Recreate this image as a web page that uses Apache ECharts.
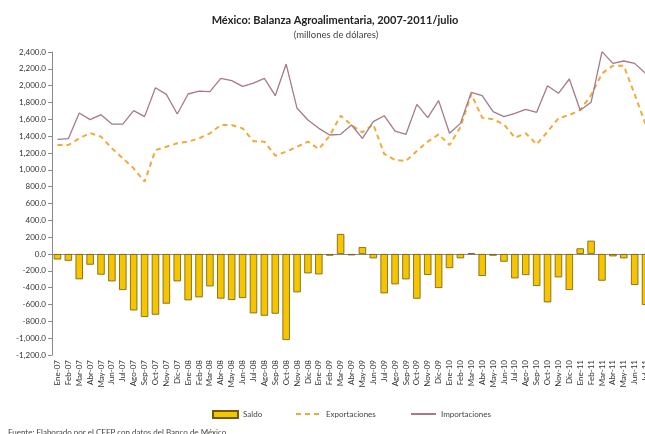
<!DOCTYPE html>
<html>
<head>
<meta charset="utf-8">
<script src="https://cdn.jsdelivr.net/npm/echarts@6/dist/echarts.min.js"></script>
<style>html,body{margin:0;padding:0;background:#fff}#c{width:645px;height:434px}</style>
</head>
<body>
<div id="c"></div>
<script>
var categories = ["Ene-07","Feb-07","Mar-07","Abr-07","May-07","Jun-07","Jul-07","Ago-07","Sep-07","Oct-07","Nov-07","Dic-07",
"Ene-08","Feb-08","Mar-08","Abr-08","May-08","Jun-08","Jul-08","Ago-08","Sep-08","Oct-08","Nov-08","Dic-08",
"Ene-09","Feb-09","Mar-09","Abr-09","May-09","Jun-09","Jul-09","Ago-09","Sep-09","Oct-09","Nov-09","Dic-09",
"Ene-10","Feb-10","Mar-10","Abr-10","May-10","Jun-10","Jul-10","Ago-10","Sep-10","Oct-10","Nov-10","Dic-10",
"Ene-11","Feb-11","Mar-11","Abr-11","May-11","Jun-11","Jul-11"];

var saldo = [-65,-80,-300,-127,-245,-325,-428,-670,-748,-721,-590,-325,
-550,-515,-384,-530,-546,-523,-705,-733,-709,-1022,-455,-230,
-242,-20,238,-16,83,-51,-467,-360,-301,-531,-249,-404,
-168,-51,8,-261,-20,-91,-289,-250,-380,-574,-277,-428,
67,158,-317,-28,-51,-368,-606];

var exportaciones = [1295,1295,1374,1437,1394,1255,1137,1018,859,1235,1275,1315,
1335,1374,1434,1532,1532,1493,1340,1335,1168,1216,1275,1335,
1247,1406,1643,1533,1445,1540,1190,1117,1105,1224,1335,1422,
1295,1505,1900,1620,1600,1540,1382,1434,1303,1453,1612,1651,
1711,1889,2146,2237,2237,1897,1540];

var importaciones = [1362,1370,1675,1596,1655,1544,1544,1703,1632,1976,1897,1663,
1901,1936,1929,2087,2059,1992,2030,2087,1881,2257,1731,1592,
1493,1414,1422,1533,1374,1572,1643,1461,1422,1778,1620,1822,
1434,1552,1921,1881,1691,1632,1671,1719,1683,2000,1909,2079,
1707,1802,2404,2265,2293,2265,2146];

var yMin = -1200, yMax = 2400, yStep = 200;

var FONT = "Lato, 'Open Sans', sans-serif";
function fmt(v){
  var s = Math.abs(v).toFixed(1);
  var parts = s.split('.');
  parts[0] = parts[0].replace(/\B(?=(\d{3})+(?!\d))/g, ',');
  return (v < 0 ? '-' : '') + parts.join('.');
}

var chart = echarts.init(document.getElementById('c'), null, {renderer:'canvas'});
chart.setOption({
  animation: false,
  backgroundColor: '#fff',
  title: [
    {text: 'México: Balanza Agroalimentaria, 2007-2011/julio', left: 330, top: 10, textAlign: 'center',
     textStyle: {fontFamily: FONT, fontSize: 11, fontWeight: 'bold', color: '#222'}},
    {text: '(millones de dólares)', left: 331, top: 25, textAlign: 'center',
     textStyle: {fontFamily: FONT, fontSize: 9.5, fontWeight: 'normal', color: '#444'}}
  ],
  grid: {left: 52, top: 52, width: 599, height: 303, containLabel: false, outerBoundsMode: 'none'},
  legend: [
    {data: [{name:'Saldo', icon:'rect'}], left: 207, top: 405, itemWidth: 25, itemHeight: 7, itemGap: 4,
     textStyle: {fontFamily: FONT, fontSize: 8, color: '#444'}},
    {data: [{name:'Exportaciones', itemStyle: {opacity: 0}}], left: 290, top: 405, itemWidth: 25, itemHeight: 7,
     textStyle: {fontFamily: FONT, fontSize: 8, color: '#444'}},
    {data: [{name:'Importaciones', itemStyle: {opacity: 0}}], left: 405, top: 405, itemWidth: 25, itemHeight: 7,
     textStyle: {fontFamily: FONT, fontSize: 8, color: '#444'}}
  ],
  xAxis: [
    {type: 'category', data: categories, position: 'bottom',
     axisLine: {show: false, onZero: false}, axisTick: {show: false},
     axisLabel: {interval: 0, rotate: 90, fontSize: 8, fontFamily: FONT, color: '#333', margin: 5}},
    {type: 'category', data: categories, position: 'bottom',
     axisLine: {show: true, onZero: true, lineStyle: {color: '#8a8a8a', width: 1}},
     axisTick: {show: false}, axisLabel: {show: false}}
  ],
  yAxis: {type: 'value', min: yMin, max: yMax, interval: yStep,
    axisLine: {show: true, lineStyle: {color: '#8a8a8a'}},
    axisTick: {show: true, inside: false, length: 4, lineStyle: {color: '#8a8a8a'}},
    splitLine: {show: false},
    axisLabel: {fontSize: 8, fontFamily: FONT, color: '#333', margin: 6, formatter: fmt}},
  series: [
    {name: 'Saldo', type: 'bar', data: saldo, xAxisIndex: 0, barCategoryGap: '32%',
     itemStyle: {color: '#F7C500', borderColor: '#6e5c0c', borderWidth: 0.8}},
    {name: 'Exportaciones', type: 'line', data: exportaciones, xAxisIndex: 0, symbol: 'none',
     lineStyle: {color: '#F2A93B', width: 2, type: [5, 4]}, itemStyle: {color: '#F2A93B'}},
    {name: 'Importaciones', type: 'line', data: importaciones, xAxisIndex: 0, symbol: 'none',
     lineStyle: {color: '#A57A8A', width: 1.3}, itemStyle: {color: '#A57A8A'}}
  ],
  graphic: [
    {type: 'text', left: 8, top: 428,
     style: {text: 'Fuente: Elaborado por el CEFP con datos del Banco de México.', font: '8px ' + FONT, fill: '#444'}}
  ]
});
</script>
</body>
</html>
